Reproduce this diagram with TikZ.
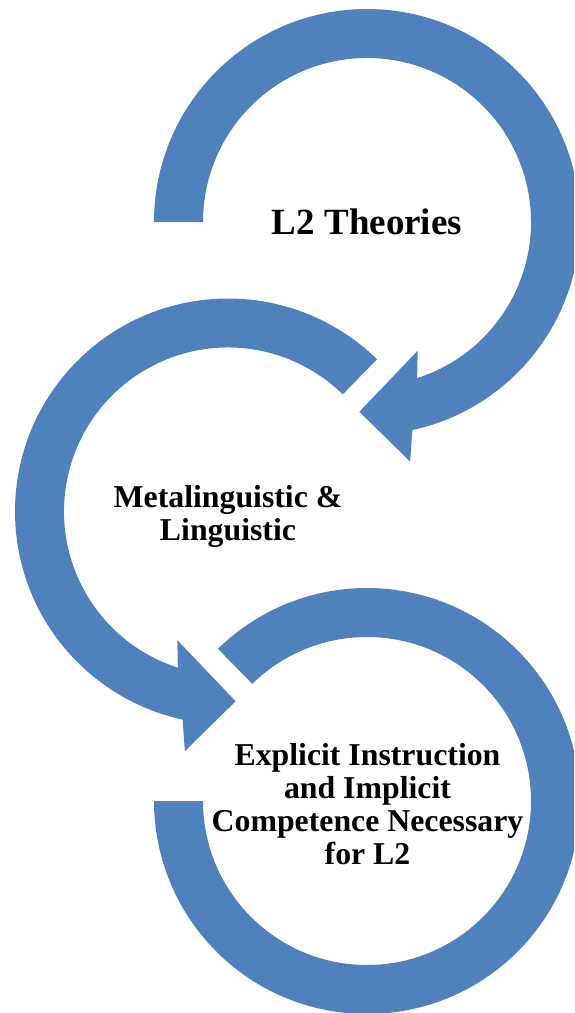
\documentclass[tikz,border=0pt]{standalone}
\usepackage{fontspec}
\setmainfont{Liberation Serif}
\usepackage{xcolor}
\usepackage{tikz}
\usetikzlibrary{calc}
\definecolor{ringblue}{HTML}{4F81BD}

\begin{document}
\begin{tikzpicture}[
  x=1pt, y=-1pt,
  ring/.style={fill=ringblue, draw=none},
  bigtxt/.style={font=\bfseries\fontsize{37}{40}\selectfont, inner sep=0pt, align=center},
  txt/.style={font=\bfseries\fontsize{31.8}{33}\selectfont, inner sep=0pt, align=center}
]
  \useasboundingbox (0,0) rectangle (574,1013);
  \clip (0,0) rectangle (574,1013);
  \coordinate (c1) at (367,222);
  \coordinate (c2) at (228,511.5);
  \coordinate (c3) at (367,801);

  \fill[ring] ($(c1)+(180:213)$) arc[start angle=180, end angle=437.7, radius=213]
    -- ($(c1)+(79.8:243.5)$) -- ($(c1)+(92.3:189.9)$) -- ($(c1)+(68.5:138.3)$)
    -- ($(c1)+(72.2:164)$) arc[start angle=72.2, end angle=-180, radius=164] -- cycle;
  \fill[ring] ($(c2)+(-45.6:213)$) arc[start angle=-45.6, end angle=-257.7, radius=213]
    -- ($(c2)+(100.2:243.5)$) -- ($(c2)+(87.7:189.9)$) -- ($(c2)+(111.5:138.3)$)
    -- ($(c2)+(107.8:164)$) arc[start angle=107.8, end angle=314.4, radius=164] -- cycle;
  \fill[ring] ($(c3)+(225.6:213)$) arc[start angle=225.6, end angle=540, radius=213]
    -- ($(c3)+(180:164)$) arc[start angle=180, end angle=-134.4, radius=164] -- cycle;

  \node[bigtxt] (theories) at (c1) {L2 Theories};
  \node[txt] (meta) at (228,516.7) {Metalinguistic \&\\Linguistic};
  \node[txt] (explicit) at (367.5,804) {Explicit Instruction\\and Implicit\\Competence Necessary\\for L2};
\end{tikzpicture}
\end{document}
